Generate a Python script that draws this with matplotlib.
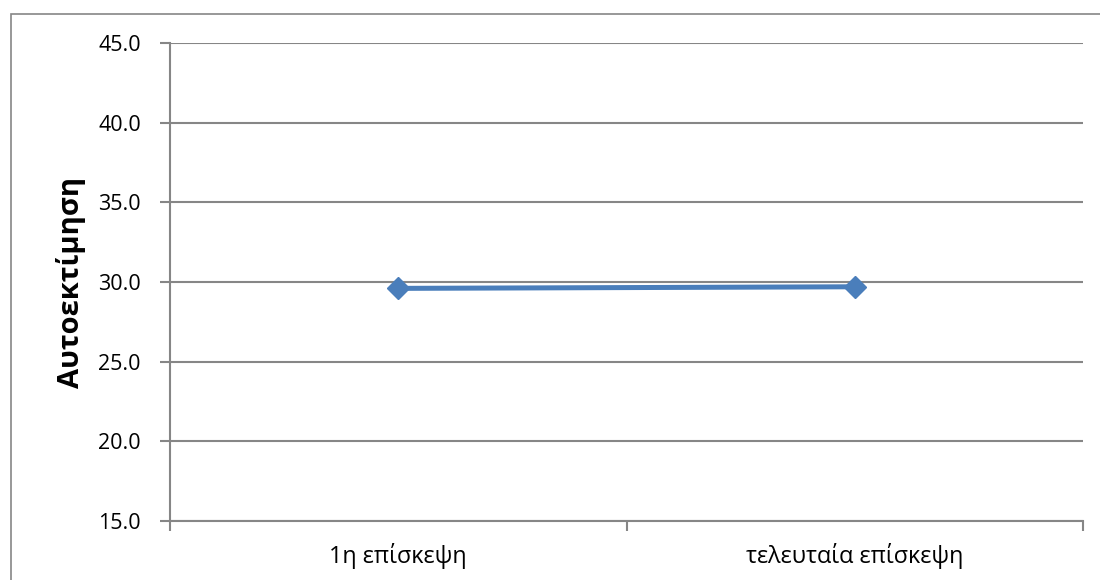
import matplotlib
matplotlib.use("Agg")
import matplotlib.pyplot as plt
from matplotlib.patches import Rectangle

# Data
categories = ["1η επίσκεψη", "τελευταία επίσκεψη"]
values = [29.6, 29.7]
y_ticks = [15.0, 20.0, 25.0, 30.0, 35.0, 40.0, 45.0]
y_label = "Αυτοεκτίμηση"

plt.rcParams["font.family"] = ["Open Sans", "DejaVu Sans"]

GRID = "#868686"
LINE = "#4A7EBB"

fig = plt.figure(figsize=(11, 5.8), dpi=100)
ax = fig.add_axes([170 / 1100, 59 / 580, 913 / 1100, 478 / 580])

x = list(range(len(categories)))
ax.plot(x, values, color=LINE, linewidth=3.6, marker="D", markersize=11,
        markerfacecolor=LINE, markeredgecolor=LINE, zorder=3, clip_on=False)

ax.set_xlim(-0.5, len(categories) - 0.5)
ax.set_ylim(y_ticks[0], y_ticks[-1])
ax.set_yticks(y_ticks)
ax.set_yticklabels([f"{v:.1f}" for v in y_ticks], fontsize=15.5)

# category labels centred under each point, tick marks at the boundaries
ax.set_xticks([i - 0.5 for i in range(len(categories) + 1)])
ax.set_xticklabels([])
ax.set_xticks(x, minor=True)
ax.set_xticklabels(categories, minor=True, fontsize=16.8)
ax.tick_params(axis="x", which="minor", length=0, pad=16)
ax.tick_params(axis="x", which="major", length=7, width=1.5, color=GRID, direction="out")
ax.tick_params(axis="y", length=7, width=1.5, color=GRID, direction="out", pad=14)

ax.yaxis.grid(True, color=GRID, linewidth=1.5)
ax.set_axisbelow(True)
for side in ("top", "right"):
    ax.spines[side].set_visible(False)
for side in ("left", "bottom"):
    ax.spines[side].set_color(GRID)
    ax.spines[side].set_linewidth(1.5)

ax.set_ylabel(y_label, fontsize=21, fontweight="bold", labelpad=9)

# chart area border
fig.patches.append(Rectangle((11 / 1100, -0.05), 1.2, (580 - 14) / 580 + 0.05,
                             transform=fig.transFigure, fill=False,
                             edgecolor=GRID, linewidth=1.2))

fig.savefig("out.png", dpi=100)
